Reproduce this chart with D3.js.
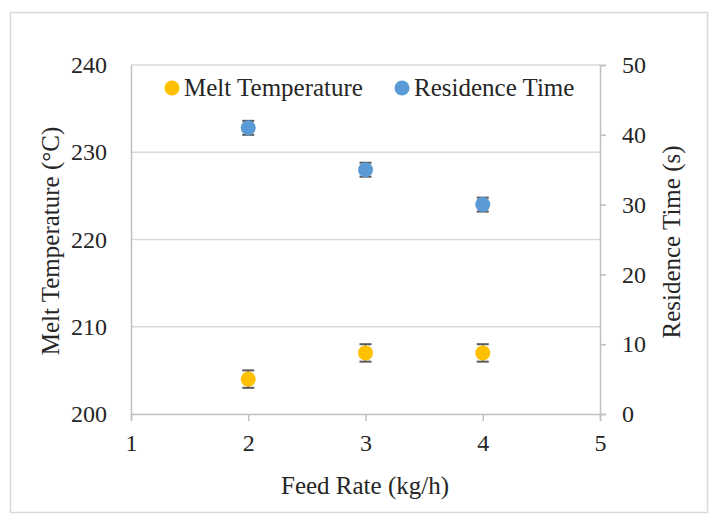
<!DOCTYPE html>
<html>
<head>
<meta charset="utf-8">
<script src="https://cdn.jsdelivr.net/npm/d3@7"></script>
<style>
  html, body { margin: 0; padding: 0; background: #fff; }
  text { font-family: "Liberation Serif", "Times New Roman", serif; fill: #262626; }
</style>
</head>
<body>
<svg id="chart" width="722" height="530"></svg>
<script>
const feedRates = [2, 3, 4];
const meltTemp = [204, 207, 207];
const meltErr = [1, 1, 1];
const resTime = [41, 35, 30];
const resErr = [1, 1, 1];
const xTicks = [1, 2, 3, 4, 5];
const leftTicks = [200, 210, 220, 230, 240];
const rightTicks = [0, 10, 20, 30, 40, 50];
const seriesNames = ["Melt Temperature", "Residence Time"];
const seriesColors = ["#FFC000", "#5B9BD5"];

const svg = d3.select("#chart");
svg.append("rect").attr("x", 10.5).attr("y", 12.5).attr("width", 697).attr("height", 500)
  .attr("fill", "#fff").attr("stroke", "#d9d9d9").attr("stroke-width", 1.5);

const L = 131, R = 600, T = 65, B = 414;
const x = d3.scaleLinear().domain([1, 5]).range([L, R]);
const yL = d3.scaleLinear().domain([200, 240]).range([B, T]);
const yR = d3.scaleLinear().domain([0, 50]).range([B, T]);

const axisColor = "#bfbfbf";
const gridColor = "#d9d9d9";
const fs = 24;
const fsT = 25;

// gridlines
svg.append("g").selectAll("line").data(leftTicks.filter(d => d !== 200)).join("line")
  .attr("x1", L).attr("x2", R).attr("y1", d => yL(d)).attr("y2", d => yL(d))
  .attr("stroke", gridColor).attr("stroke-width", 1.5);

// left axis
const gL = svg.append("g").attr("transform", `translate(${L},0)`)
  .call(d3.axisLeft(yL).tickValues(leftTicks).tickSize(0).tickPadding(24));
gL.select(".domain").attr("stroke", axisColor).attr("stroke-width", 1.5);
gL.selectAll("text").attr("font-size", fs).attr("font-family", "Liberation Serif").attr("fill", "#262626");

// right axis
const gR = svg.append("g").attr("transform", `translate(${R},0)`)
  .call(d3.axisRight(yR).tickValues(rightTicks).tickSize(6).tickPadding(16));
gR.select(".domain").attr("stroke", axisColor).attr("stroke-width", 1.5);
gR.selectAll(".tick line").attr("stroke", axisColor).attr("stroke-width", 1.5);
gR.selectAll("text").attr("font-size", fs).attr("font-family", "Liberation Serif").attr("fill", "#262626");

// bottom axis
const gB = svg.append("g").attr("transform", `translate(0,${B})`)
  .call(d3.axisBottom(x).tickValues(xTicks).tickFormat(d3.format("d")).tickSize(7).tickPadding(13));
gB.select(".domain").attr("stroke", axisColor).attr("stroke-width", 1.5);
gB.selectAll(".tick line").attr("stroke", axisColor).attr("stroke-width", 1.5);
gB.selectAll("text").attr("font-size", fs).attr("font-family", "Liberation Serif").attr("fill", "#262626");

// axis titles
svg.append("text").attr("x", 365).attr("y", 494).attr("text-anchor", "middle")
  .attr("font-size", fsT).text("Feed Rate (kg/h)");
svg.append("text").attr("transform", "translate(59,241) rotate(-90)").attr("text-anchor", "middle")
  .attr("font-size", fsT).text("Melt Temperature (°C)");
svg.append("text").attr("transform", "translate(680,242) rotate(-90)").attr("text-anchor", "middle")
  .attr("font-size", fsT).text("Residence Time (s)");

// series
function drawSeries(vals, errs, yScale, color) {
  const g = svg.append("g");
  const data = feedRates.map((f, i) => ({ f, v: vals[i], e: errs[i] }));
  const eb = g.selectAll("g.eb").data(data).join("g");
  eb.append("line").attr("x1", d => x(d.f)).attr("x2", d => x(d.f))
    .attr("y1", d => yScale(d.v - d.e)).attr("y2", d => yScale(d.v + d.e))
    .attr("stroke", "#595959").attr("stroke-width", 1.5);
  [1, -1].forEach(s => {
    eb.append("line").attr("x1", d => x(d.f) - 6).attr("x2", d => x(d.f) + 6)
      .attr("y1", d => yScale(d.v + s * d.e)).attr("y2", d => yScale(d.v + s * d.e))
      .attr("stroke", "#595959").attr("stroke-width", 2);
  });
  g.selectAll("circle").data(data).join("circle")
    .attr("cx", d => x(d.f)).attr("cy", d => yScale(d.v)).attr("r", 7.5)
    .attr("fill", color);
}
drawSeries(meltTemp, meltErr, yL, seriesColors[0]);
drawSeries(resTime, resErr, yR, seriesColors[1]);

// legend
const legendX = [172, 402];
seriesNames.forEach((n, i) => {
  svg.append("circle").attr("cx", legendX[i]).attr("cy", 88).attr("r", 7.5).attr("fill", seriesColors[i]);
  svg.append("text").attr("x", legendX[i] + 12).attr("y", 96).attr("font-size", fsT).text(n);
});
</script>
</body>
</html>
